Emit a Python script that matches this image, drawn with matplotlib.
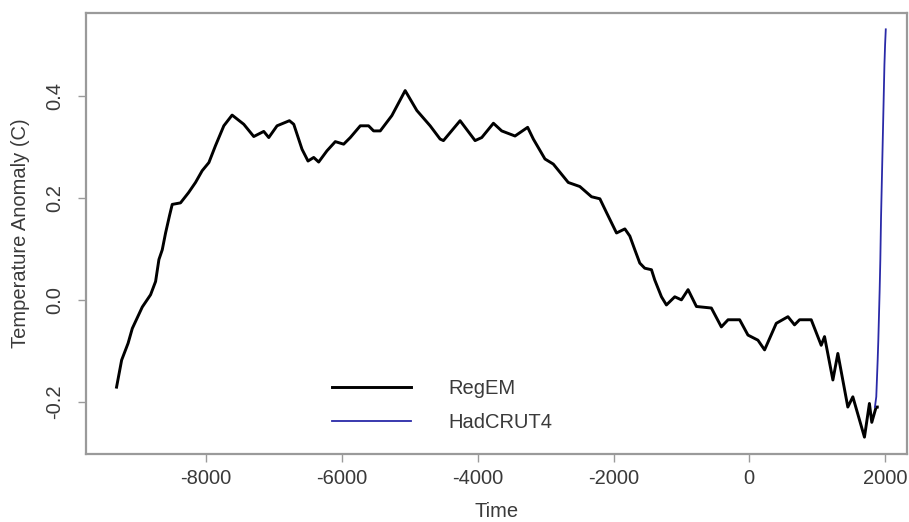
import matplotlib
matplotlib.use("Agg")
import matplotlib.pyplot as plt

plt.rcParams['font.family'] = ['Liberation Sans', 'DejaVu Sans']

regem_years = [-9320, -9245, -9150, -9088, -8941, -8819, -8745, -8696, -8647, -8598,
               -8540, -8500, -8378, -8260, -8157, -8059, -7960, -7863, -7740, -7618,
               -7446, -7299, -7152, -7078, -6956, -6774, -6710, -6588, -6500, -6416,
               -6343, -6221, -6098, -5975, -5877, -5730, -5608, -5534, -5436, -5265,
               -5069, -4897, -4701, -4554, -4505, -4260, -4039, -3941, -3769, -3647,
               -3451, -3265, -3181, -3010, -2887, -2667, -2496, -2324, -2201, -2103,
               -1956, -1833, -1760, -1686, -1613, -1540, -1441, -1393, -1294, -1221,
               -1098, -1000, -902, -779, -559, -412, -313, -142, -20, 127,
               225, 397, 569, 666, 740, 912, 1059, 1108, 1231, 1304,
               1451, 1525, 1696, 1769, 1804, 1868, 1885]
regem_values = [-0.171, -0.118, -0.085, -0.056, -0.014, 0.010, 0.036, 0.079, 0.098, 0.131,
                0.165, 0.187, 0.190, 0.210, 0.230, 0.253, 0.269, 0.302, 0.341, 0.362,
                0.344, 0.320, 0.330, 0.318, 0.341, 0.351, 0.344, 0.295, 0.272, 0.279,
                0.270, 0.292, 0.310, 0.305, 0.318, 0.341, 0.341, 0.331, 0.331, 0.361,
                0.410, 0.371, 0.341, 0.315, 0.312, 0.351, 0.312, 0.318, 0.346, 0.331,
                0.321, 0.338, 0.315, 0.276, 0.266, 0.230, 0.222, 0.202, 0.198, 0.171,
                0.131, 0.139, 0.125, 0.098, 0.072, 0.062, 0.059, 0.039, 0.006, -0.010,
                0.006, 0.000, 0.020, -0.013, -0.016, -0.053, -0.039, -0.039, -0.069, -0.079,
                -0.098, -0.046, -0.033, -0.049, -0.039, -0.039, -0.089, -0.072, -0.157, -0.105,
                -0.210, -0.190, -0.269, -0.203, -0.240, -0.210, -0.210]

hadcrut_years = [1850, 1870, 1890, 1900, 1910, 1920, 1930, 1940, 1950, 1960,
                 1970, 1980, 1990, 2000, 2010]
hadcrut_values = [-0.21, -0.19, -0.12, -0.08, -0.03, 0.02, 0.08, 0.16, 0.22, 0.28,
                  0.34, 0.40, 0.46, 0.50, 0.53]

x_ticks = [-8000, -6000, -4000, -2000, 0, 2000]
y_ticks = [-0.2, 0.0, 0.2, 0.4]
y_tick_labels = ["-0.2", "0.0", "0.2", "0.4"]

W, H = 909, 522
L, R, T, B = 86, 907.5, 13, 454

fig = plt.figure(figsize=(W/100, H/100), dpi=100)
ax = fig.add_axes([L/W, 1 - B/H, (R - L)/W, (B - T)/H])

ax.plot(regem_years, regem_values, color='black', lw=2.1, label='RegEM', solid_joinstyle='round')
ax.plot(hadcrut_years, hadcrut_values, color='#2a2aa8', lw=1.3, label='HadCRUT4')

ax.set_xlim(-9770, 2330)
ax.set_ylim(-0.302, 0.562)

grey = '#9a9a9a'
txt = '#3a3a3a'
fs = 14.5
for s in ax.spines.values():
    s.set_color(grey)
    s.set_linewidth(1.6)

ax.set_xticks(x_ticks)
ax.set_xticklabels([str(t) for t in x_ticks])
ax.set_yticks(y_ticks)
ax.set_yticklabels(y_tick_labels, rotation=90, va='center')
ax.tick_params(axis='both', direction='out', length=5.5, width=1, color=grey,
               labelcolor=txt, labelsize=fs)
ax.tick_params(axis='x', pad=5)
ax.tick_params(axis='y', pad=10)

ax.set_xlabel('Time', fontsize=fs, color=txt)
ax.set_ylabel('Temperature Anomaly (C)', fontsize=fs, color=txt)
ax.xaxis.set_label_coords(0.5, (B - 502) / (B - T))
ax.yaxis.set_label_coords((30 - L) / (R - L), 0.5)

leg = ax.legend(loc='upper left', bbox_to_anchor=(332/W, 1 - 379/H),
                bbox_transform=fig.transFigure, borderpad=0, borderaxespad=0,
                frameon=False, fontsize=fs, handlelength=3.9, handletextpad=1.9,
                labelspacing=0.75, labelcolor=txt)

fig.savefig('out.png', dpi=100)
